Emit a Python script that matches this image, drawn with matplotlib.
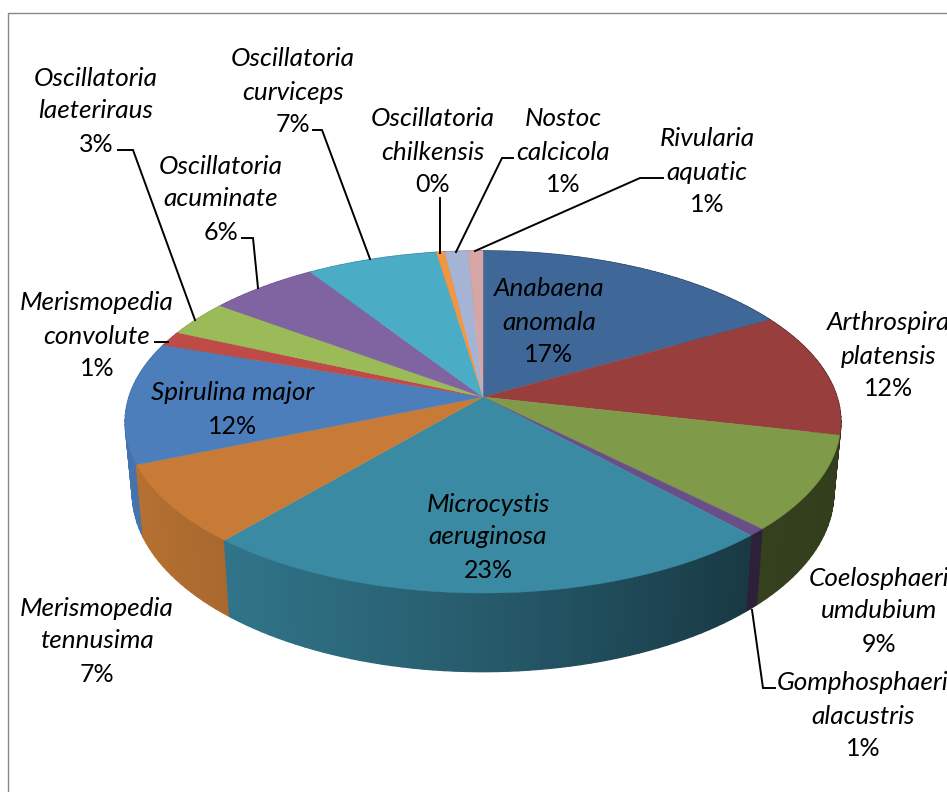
import numpy as np
import matplotlib
matplotlib.use("Agg")
import matplotlib.pyplot as plt
from matplotlib.patches import Polygon

names = ["Anabaena\nanomala", "Arthrospira\nplatensis", "Coelosphaeria\numdubium",
         "Gomphosphaeria\nalacustris", "Microcystis\naeruginosa", "Merismopedia\ntennusima",
         "Spirulina major", "Merismopedia\nconvolute", "Oscillatoria\nlaeteriraus",
         "Oscillatoria\nacuminate", "Oscillatoria\ncurviceps", "Oscillatoria\nchilkensis",
         "Nostoc\ncalcicola", "Rivularia\naquatic"]
values = [16.75, 11.75, 8.95, 0.7, 23.0, 7.5, 11.5, 1.4, 3.4, 5.7, 6.8, 0.43, 1.2, 0.77]
percents = ["17%", "12%", "9%", "1%", "23%", "7%", "12%", "1%", "3%", "6%", "7%", "0%", "1%", "1%"]
colors = ["#3F6899", "#983F3D", "#7F9A48", "#694F88", "#3A8AA3", "#C77B36", "#4C7EBB",
          "#BE4B48", "#9BBB59", "#8064A2", "#4BACC6", "#F3963F", "#A5B3D4", "#D6A6A5"]

# label centre x, y of first line
label_pos = [(549, 289), (889, 323), (879, 578), (863, 683), (488, 504), (97, 608), (233, 393),
             (97, 303), (96, 78), (221, 166), (293, 59), (433, 119), (563, 119), (707, 139)]
# the first line of these two sits a little right of the rest
first_line_shift = {2: 7, 3: 6}

leaders = [[(118, 150), (133, 150), (195, 320)],
           [(313, 130), (322, 130), (370, 259)],
           [(242, 238), (253, 238), (258, 288)],
           [(440, 198), (440, 253)],
           [(513, 158), (502, 158), (456, 252)],
           [(663, 178), (640, 178), (475, 251)],
           [(155, 342), (168, 342)],
           [(775, 688), (763, 688), (752, 610)]]

cx, cy = 483, 397
a, b, k = 354, 167.4, 0.146


def top_rim(t):
    w = 1 + k*np.cos(t)
    return cx + a*np.sin(t)/w, cy - b*np.cos(t)/w


def bottom_rim(t):
    x, y = top_rim(t)
    return cx + (x-cx)*0.98, cy + 70 + (y-cy)*1.044


def side_shade(x):
    return np.interp(x, [125, 231, 483, 750, 842], [0.92, 0.84, 0.66, 0.42, 0.40])


fig = plt.figure(figsize=(9.47, 7.92), dpi=100)
ax = fig.add_axes([0, 0, 1, 1])
ax.set_xlim(0, 947)
ax.set_ylim(792, 0)
ax.axis("off")

# chart frame
ax.plot([8, 8, 947], [792, 13, 13], color="#868686", lw=1.0)

edges = np.concatenate([[0], np.cumsum(values)]) / sum(values) * 2*np.pi

# side wall, back to front
quads = []
for i, col in enumerate(colors):
    ts = np.arange(edges[i], edges[i+1], np.radians(1.5))
    ts = np.append(ts, edges[i+1])
    for t0, t1 in zip(ts[:-1], ts[1:]):
        quads.append((t0, t1, col))
quads.sort(key=lambda q: top_rim(q[0])[1])
for t0, t1, col in quads:
    x0, y0 = top_rim(t0)
    x1, y1 = top_rim(t1)
    x2, y2 = bottom_rim(t1)
    x3, y3 = bottom_rim(t0)
    rgb = np.array(matplotlib.colors.to_rgb(col)) * side_shade((x0+x1)/2)
    ax.add_patch(Polygon([(x0, y0), (x1, y1), (x2, y2), (x3, y3)], closed=True,
                         facecolor=rgb, edgecolor=rgb, lw=1.0))

# top face
for i, col in enumerate(colors):
    ts = np.linspace(edges[i], edges[i+1], 80)
    xs, ys = top_rim(ts)
    pts = [(cx, cy)] + list(zip(xs, ys))
    ax.add_patch(Polygon(pts, closed=True, facecolor=col, edgecolor=col, lw=0.3))

for pts in leaders:
    ax.plot([p[0] for p in pts], [p[1] for p in pts], color="black", lw=1.4,
            solid_joinstyle="miter")

for i, (name, pct, (x, y)) in enumerate(zip(names, percents, label_pos)):
    lines = name.split("\n")
    for j, line in enumerate(lines):
        shift = first_line_shift.get(i, 0) if j == 0 else 0
        ax.text(x + shift, y + j*33, line, ha="center", va="center", style="italic",
                family="Lato", fontsize=18.8, color="black")
    ax.text(x, y + len(lines)*33, pct, ha="center", va="center",
            family="Lato", fontsize=18, color="black")

fig.savefig("out.png", dpi=100)
